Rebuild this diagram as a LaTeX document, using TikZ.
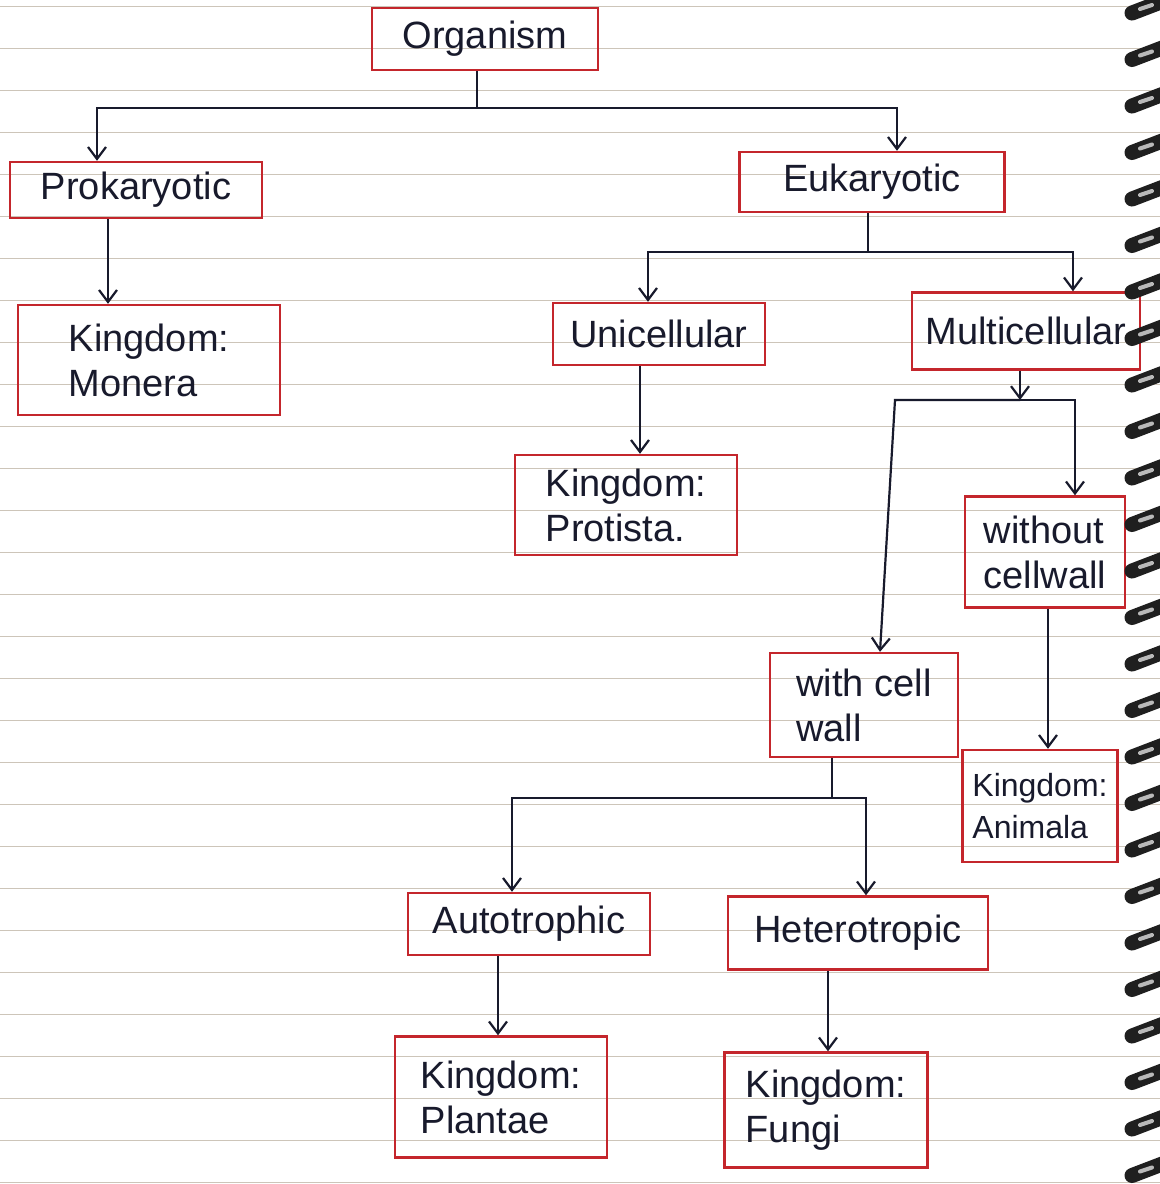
\documentclass[tikz,border=0pt]{standalone}
\usepackage{fontspec}
\setmainfont{Liberation Sans}
\usetikzlibrary{arrows.meta,calc}
\definecolor{boxred}{RGB}{196,38,44}
\definecolor{ink}{RGB}{24,26,44}
\definecolor{ruling}{RGB}{205,197,185}
\newcommand\handfont{\fontsize{19pt}{22.5pt}\selectfont}
\newcommand\smallhand{\fontsize{16pt}{21pt}\selectfont}
\tikzset{
  box/.style={draw=boxred, line width=1.2pt, text=ink, align=left,
              inner sep=0pt, font=\handfont},
  wire/.style={draw=ink, line width=1.1pt},
  arr/.style={wire, -{Straight Barb[length=6pt,width=9pt]}},
  rule/.style={draw=ruling, line width=0.45pt},
  ring/.style={draw=black!88, line width=7.5pt, line cap=round},
  shine/.style={draw=gray!55, line width=2pt, line cap=round}
}
\begin{document}
\begin{tikzpicture}[x=0.5pt,y=-0.5pt]
\useasboundingbox (0,0) rectangle (1160,1184);
\fill[white] (0,0) rectangle (1160,1184);

% ruled notebook lines
\foreach \k in {0,...,28}
  \draw[rule] (0,{6+42*\k}) -- (1160,{6+42*\k});

% boxes
\node[box, minimum width=113pt, minimum height=31pt] (org) at (485,39) {Organism};
\node[box, minimum width=126pt, minimum height=28pt] (pro) at (136,190) {Prokaryotic};
\node[box, minimum width=132.5pt, minimum height=30pt] (euk) at (872,182) {Eukaryotic};
\node[box, minimum width=131pt, minimum height=55pt] (mon) at (149,360) {Kingdom:\\Monera};
\node[box, minimum width=106pt, minimum height=31pt] (uni) at (659,334) {Unicellular};
\node[box, minimum width=114pt, minimum height=38.5pt] (mul) at (1026,331) {Multicellular};
\node[box, minimum width=111pt, minimum height=50pt] (prt) at (626,505) {Kingdom:\\Protista.};
\node[box, minimum width=80pt, minimum height=55.5pt] (wo) at (1045,552) {without\\cellwall};
\node[box, minimum width=94pt, minimum height=52pt] (wi) at (864,705) {with cell\\wall};
\node[box, font=\smallhand, minimum width=77.5pt, minimum height=56pt] (ani) at (1040,806) {Kingdom:\\Animala};
\node[box, minimum width=121pt, minimum height=31pt] (aut) at (529,924) {Autotrophic};
\node[box, minimum width=130pt, minimum height=36.5pt] (het) at (858,933) {Heterotropic};
\node[box, minimum width=106pt, minimum height=60.5pt] (pla) at (501,1097) {Kingdom:\\Plantae};
\node[box, minimum width=101.5pt, minimum height=57.5pt] (fun) at (826,1110) {Kingdom:\\Fungi};

% junction points and drop lines
\coordinate (j1) at (477,108);
\coordinate (j2) at (868,252);
\coordinate (j3) at (1020,400);
\coordinate (j4) at (832,798);
\coordinate (bend) at (895,400);
\coordinate (xa) at (97,0);
\coordinate (xb) at (897,0);
\coordinate (xc) at (108,0);
\coordinate (xd) at (648,0);
\coordinate (xe) at (1073,0);
\coordinate (xf) at (640,0);
\coordinate (xg) at (880,0);
\coordinate (xh) at (1075,0);
\coordinate (xi) at (1048,0);
\coordinate (xj) at (512,0);
\coordinate (xk) at (866,0);
\coordinate (xl) at (498,0);
\coordinate (xm) at (828,0);

% Organism
\draw[wire] (org.south -| j1) -- (j1);
\draw[arr] (j1) -| (xa |- pro.north);
\draw[arr] (j1) -| (xb |- euk.north);
% Prokaryotic
\draw[arr] (xc |- pro.south) -- (xc |- mon.north);
% Eukaryotic
\draw[wire] (euk.south -| j2) -- (j2);
\draw[arr] (j2) -| (xd |- uni.north);
\draw[arr] (j2) -| (xe |- mul.north);
% Unicellular
\draw[arr] (xf |- uni.south) -- (xf |- prt.north);
% Multicellular
\draw[arr] (mul.south -| j3) -- (j3);
\draw[arr] (j3) -- (bend) -- (xg |- wi.north);
\draw[arr] (j3) -| (xh |- wo.north);
% without cell wall
\draw[arr] (xi |- wo.south) -- (xi |- ani.north);
% with cell wall
\draw[wire] (wi.south -| j4) -- (j4);
\draw[arr] (j4) -| (xj |- aut.north);
\draw[arr] (j4) -| (xk |- het.north);
% nutrition
\draw[arr] (xl |- aut.south) -- (xl |- pla.north);
\draw[arr] (xm |- het.south) -- (xm |- fun.north);

% spiral binding
\begin{scope}
\clip (0,0) rectangle (1160,1184);
\foreach \k in {0,...,25} {
  \pgfmathsetmacro{\yy}{7+46.5*\k}
  \draw[ring] (1132,\yy+6) -- (1166,\yy-7);
  \draw[shine] (1140,\yy+2) -- (1152,\yy-2);
}
\end{scope}
\end{tikzpicture}
\end{document}
